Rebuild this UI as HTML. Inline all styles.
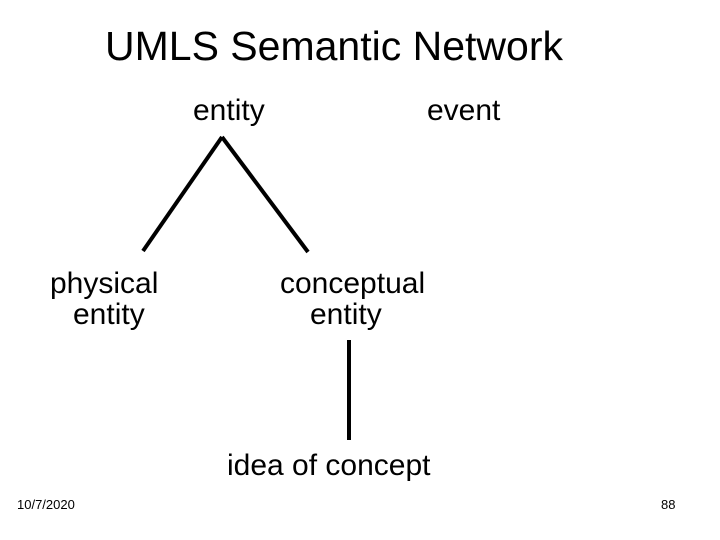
<!DOCTYPE html>
<html><head><meta charset="utf-8"><style>
html,body{margin:0;padding:0;background:#fff;}
body{width:720px;height:540px;position:relative;overflow:hidden;font-family:"Liberation Sans",sans-serif;color:#000;}
.t{position:absolute;white-space:nowrap;line-height:1;}
</style></head><body>
<div class="t" style="left:105px;top:26px;font-size:41px;">UMLS Semantic Network</div>
<div class="t" style="left:193px;top:96px;font-size:30px;">entity</div>
<div class="t" style="left:427px;top:96px;font-size:30px;">event</div>
<div class="t" style="left:50px;top:269px;font-size:30px;">physical</div>
<div class="t" style="left:73px;top:300px;font-size:30px;">entity</div>
<div class="t" style="left:280px;top:269px;font-size:30px;">conceptual</div>
<div class="t" style="left:310px;top:300px;font-size:30px;">entity</div>
<div class="t" style="left:227px;top:451px;font-size:30px;">idea of concept</div>
<div class="t" style="left:17px;top:498px;font-size:13px;">10/7/2020</div>
<div class="t" style="left:661px;top:498px;font-size:13px;">88</div>
<svg width="720" height="540" style="position:absolute;left:0;top:0">
<g stroke="#000" stroke-width="4" fill="none">
<line x1="222" y1="137" x2="143" y2="251"/>
<line x1="222" y1="137" x2="308" y2="252"/>
<line x1="349" y1="340" x2="349" y2="440"/>
</g></svg>
</body></html>
